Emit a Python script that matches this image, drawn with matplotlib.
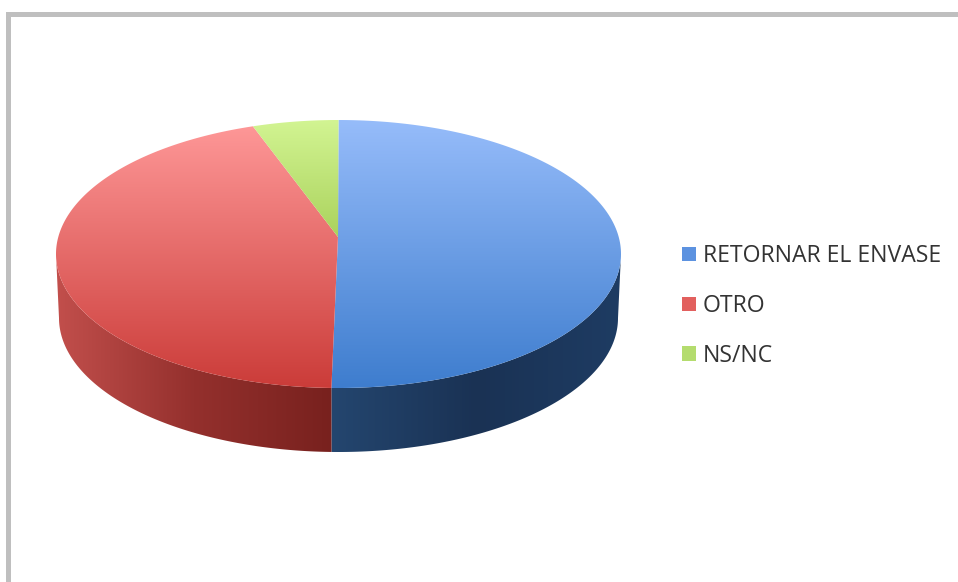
import numpy as np
import matplotlib
matplotlib.use("Agg")
import matplotlib.pyplot as plt
from matplotlib.colors import LinearSegmentedColormap
from matplotlib.patches import Patch, Polygon

categories = ["RETORNAR EL ENVASE", "OTRO", "NS/NC"]
values = [50.4, 44.7, 4.9]

top_colors = [["#96BCFA", "#3E7DCE"], ["#FF9999", "#CB3C39"], ["#D2F492", "#77A718"]]
side_colors = [["#24466F", "#1A3254", "#1E3C63"], ["#C24F4C", "#94302D", "#78211E"], ["#86A83A", "#86A83A", "#86A83A"]]
legend_colors = ["#5C92E0", "#E2605E", "#B4DC6E"]

W, H = 958, 582
cx, cy, rx, ry = 338.5, 254.0, 282.5, 134.0
apex = (338.0, 237.0)
depth = 64.0
bottom_inset = 3.0

fig = plt.figure(figsize=(W / 100, H / 100), dpi=100, facecolor="white")
ax = fig.add_axes([0, 0, 1, 1])
ax.set_xlim(0, W)
ax.set_ylim(H, 0)
ax.axis("off")


def rim(t0, t1, dy=0.0, inset=0.0):
    t = np.linspace(t0, t1, 240)
    return np.column_stack([cx + (rx - inset) * np.sin(t), cy + dy - ry * np.cos(t)])


def shade(poly, colors, vertical):
    cmap = LinearSegmentedColormap.from_list("c", colors)
    grad = np.linspace(0, 1, 256)
    grad = grad[:, None] if vertical else grad[None, :]
    x0, x1 = poly[:, 0].min(), poly[:, 0].max()
    y0, y1 = (cy - ry, cy + ry) if vertical else (poly[:, 1].min(), poly[:, 1].max())
    im = ax.imshow(grad, cmap=cmap, extent=(x0, x1, y1, y0), aspect="auto", zorder=2, interpolation="bilinear")
    patch = Polygon(poly, closed=True, transform=ax.transData, fc="none", ec="none")
    ax.add_patch(patch)
    im.set_clip_path(patch)
    return im


fractions = np.array(values) / np.sum(values)
edges = np.concatenate([[0.0], np.cumsum(fractions)]) * 2 * np.pi

for i in range(len(values)):
    a, b = edges[i], edges[i + 1]
    lo, hi = max(a, np.pi / 2), min(b, 3 * np.pi / 2)
    if hi > lo:
        front = rim(lo, hi)
        back = rim(lo, hi, depth, bottom_inset)[::-1]
        shade(np.vstack([front, back]), side_colors[i], vertical=False)
    shade(np.vstack([[apex], rim(a, b)]), top_colors[i], vertical=True)

ax.set_xlim(0, W)
ax.set_ylim(H, 0)

frame = "#BFBFBF"
ax.plot([8.5, 8.5, W], [H, 13.5, 13.5], color=frame, lw=3.6, solid_joinstyle="miter", zorder=1)

handles = [Patch(fc=c, ec="none") for c in legend_colors]
ax.legend(handles, categories, loc="center left", bbox_to_anchor=(682 / W, 1 - 306 / H),
          frameon=False, prop={"family": "Open Sans", "size": 16.6}, labelcolor="#333333",
          labelspacing=1.12, handlelength=0.6, handleheight=0.6, handletextpad=0.3,
          borderpad=0, borderaxespad=0)

fig.savefig("out.png", dpi=100, facecolor="white")
